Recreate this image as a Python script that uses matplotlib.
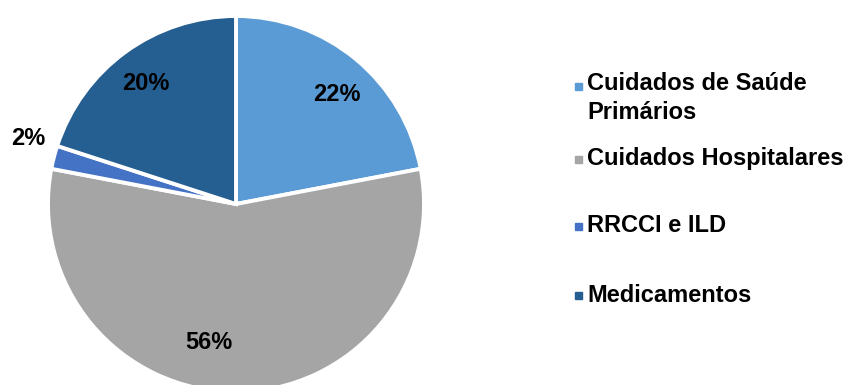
import numpy as np
import matplotlib
matplotlib.use('Agg')
import matplotlib.pyplot as plt
from matplotlib.patches import Rectangle

plt.rcParams['font.family'] = ['Liberation Sans', 'DejaVu Sans']

categories = ['Cuidados de Saúde\nPrimários', 'Cuidados Hospitalares', 'RRCCI e ILD', 'Medicamentos']
shares = [22, 56, 2, 20]
colors = ['#5B9BD5', '#A5A5A5', '#4472C4', '#255E91']

W, H = 850, 385
fig = plt.figure(figsize=(W / 100, H / 100), dpi=100)

# pie: centre (236, 204) px, radius 188 px
cx, cy, r = 236, 204, 188
ax = fig.add_axes([(cx - r) / W, (H - cy - r) / H, 2 * r / W, 2 * r / H])
wedges, _ = ax.pie(shares, colors=colors, startangle=90, counterclock=False,
                   wedgeprops=dict(edgecolor='white', linewidth=2.8))
ax.set_xlim(-1, 1)
ax.set_ylim(-1, 1)
ax.set_aspect('equal')
ax.axis('off')

# label placement (distance from centre, angle shift in degrees)
label_pos = [(0.79, -3), (0.75, -11), (1.16, -3), (0.80, 1)]
for w, v, (d, da) in zip(wedges, shares, label_pos):
    ang = np.deg2rad((w.theta1 + w.theta2) / 2 + da)
    ax.text(d * np.cos(ang), d * np.sin(ang), f'{v}%', ha='center', va='center',
            fontsize=17, fontweight='bold', clip_on=False)

# legend drawn by hand (uneven spacing in the original)
leg_y = [86, 159, 226, 295]
for lab, c, y in zip(categories, colors, leg_y):
    fig.patches.append(Rectangle((575 / W, (H - y - 3.5) / H), 7 / W, 7 / H,
                                 transform=fig.transFigure, color=c))
    if '\n' in lab:
        fig.text(587 / W, (H - y + 14) / H, lab, ha='left', va='top',
                 fontsize=17, fontweight='bold', linespacing=1.32)
    else:
        fig.text(587 / W, (H - y) / H, lab, ha='left', va='center',
                 fontsize=17, fontweight='bold')

fig.savefig('out.png', dpi=100)
